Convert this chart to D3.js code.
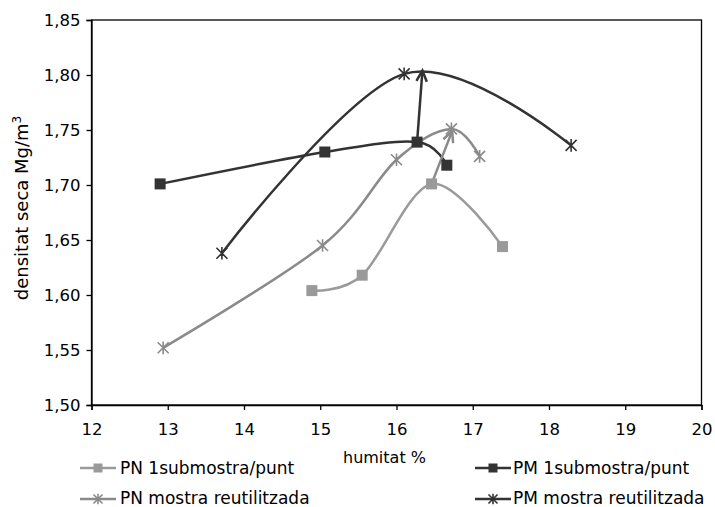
<!DOCTYPE html>
<html>
<head>
<meta charset="utf-8">
<script src="https://cdn.jsdelivr.net/npm/d3@7"></script>
<style>
  html, body { margin: 0; padding: 0; background: #fff; }
  svg { display: block; font-family: "DejaVu Sans", Verdana, sans-serif; }
</style>
</head>
<body>
<svg id="chart" width="715" height="507"></svg>
<script>
// Compaction curves: dry density (Mg/m3) against moisture (%)
const xTicks = [12, 13, 14, 15, 16, 17, 18, 19, 20];
const yTicks = [1.50, 1.55, 1.60, 1.65, 1.70, 1.75, 1.80, 1.85];

const pnSubX = [14.89, 15.55, 16.46, 17.39];
const pnSubY = [1.604, 1.618, 1.701, 1.644];

const pmSubX = [12.90, 15.06, 16.27, 16.66];
const pmSubY = [1.701, 1.730, 1.739, 1.718];

const pnReuX = [12.94, 15.03, 16.00, 16.72, 17.09];
const pnReuY = [1.552, 1.645, 1.723, 1.751, 1.726];

const pmReuX = [13.71, 16.10, 18.29];
const pmReuY = [1.638, 1.801, 1.736];

// arrows linking the single-subsample maxima to the reused-sample maxima
const arrowFromX = [16.27, 16.46];
const arrowFromY = [1.739, 1.701];
const arrowToX = [16.34, 16.73];
const arrowToY = [1.804, 1.749];

const seriesNames = ["PN 1submostra/punt", "PM 1submostra/punt", "PN mostra reutilitzada", "PM mostra reutilitzada"];

const zip = (xs, ys) => xs.map((x, i) => ({ x, y: ys[i] }));

const series = [
  { name: seriesNames[0], pts: zip(pnSubX, pnSubY), color: "#9a9a9a", marker: "square" },
  { name: seriesNames[1], pts: zip(pmSubX, pmSubY), color: "#333333", marker: "square" },
  { name: seriesNames[2], pts: zip(pnReuX, pnReuY), color: "#8a8a8a", marker: "star" },
  { name: seriesNames[3], pts: zip(pmReuX, pmReuY), color: "#333333", marker: "star" }
];

const arrows = [
  { x1: arrowFromX[0], y1: arrowFromY[0], x2: arrowToX[0], y2: arrowToY[0], color: "#333333" },
  { x1: arrowFromX[1], y1: arrowFromY[1], x2: arrowToX[1], y2: arrowToY[1], color: "#8a8a8a" }
];

const svg = d3.select("#chart");
const plotL = 91.5, plotR = 701.5, plotT = 20, plotB = 405;

const x = d3.scaleLinear().domain([12, 20]).range([plotL, plotR]);
const y = d3.scaleLinear().domain([1.50, 1.85]).range([plotB, plotT]);

// plot frame
svg.append("rect")
  .attr("x", plotL).attr("y", plotT)
  .attr("width", plotR - plotL).attr("height", plotB - plotT)
  .attr("fill", "none").attr("stroke", "#000").attr("stroke-width", 1.3);

const fmtY = v => d3.format(".2f")(v).replace(".", ",");

const yAxis = svg.append("g")
  .attr("transform", `translate(${plotL},0)`)
  .call(d3.axisLeft(y).tickValues(yTicks).tickFormat(fmtY).tickSize(5).tickPadding(6));
const xAxis = svg.append("g")
  .attr("transform", `translate(0,${plotB})`)
  .call(d3.axisBottom(x).tickValues(xTicks).tickFormat(d3.format("d")).tickSize(5).tickPadding(13));

[yAxis, xAxis].forEach(g => {
  g.select(".domain").attr("stroke", "#000").attr("stroke-width", 1.3);
  g.selectAll(".tick line").attr("stroke", "#000").attr("stroke-width", 1.3);
  g.selectAll(".tick text").attr("fill", "#000")
    .style("font-family", "'DejaVu Sans', Verdana, sans-serif").style("font-size", "16.5px");
});

// axis titles
svg.append("text")
  .attr("transform", `translate(28,208) rotate(-90)`)
  .attr("text-anchor", "middle")
  .style("font-size", "18px")
  .html('densitat seca Mg/m<tspan dy="-7" font-size="12">3</tspan>');

svg.append("text")
  .attr("x", 343).attr("y", 463)
  .style("font-size", "16px")
  .text("humitat %");

// smoothed series lines
const line = d3.line()
  .x(d => x(d.x)).y(d => y(d.y))
  .curve(d3.curveCardinal.tension(0));

const plot = svg.append("g");

series.forEach(s => {
  plot.append("path")
    .datum(s.pts)
    .attr("d", line)
    .attr("fill", "none")
    .attr("stroke", s.color)
    .attr("stroke-width", 2.5)
    .attr("stroke-linejoin", "round");
});

// arrows
function drawArrow(g, x1, y1, x2, y2, color) {
  g.append("line")
    .attr("x1", x1).attr("y1", y1).attr("x2", x2).attr("y2", y2)
    .attr("stroke", color).attr("stroke-width", 2.5);
  const ang = Math.atan2(y2 - y1, x2 - x1);
  const len = 12, spread = 0.45;
  const p1 = [x2 - len * Math.cos(ang - spread), y2 - len * Math.sin(ang - spread)];
  const p2 = [x2 - len * Math.cos(ang + spread), y2 - len * Math.sin(ang + spread)];
  g.append("path")
    .attr("d", `M${p1[0]},${p1[1]}L${x2},${y2}L${p2[0]},${p2[1]}`)
    .attr("fill", "none").attr("stroke", color).attr("stroke-width", 2.5)
    .attr("stroke-linejoin", "miter");
}
arrows.forEach(a => drawArrow(plot, x(a.x1), y(a.y1), x(a.x2), y(a.y2), a.color));

// markers
function drawMarker(g, cx, cy, type, color, size) {
  if (type === "square") {
    g.append("rect")
      .attr("x", cx - size / 2).attr("y", cy - size / 2)
      .attr("width", size).attr("height", size)
      .attr("fill", color);
  } else {
    const r = size / 2;
    const d = `M${cx - r},${cy - r}L${cx + r},${cy + r}M${cx - r},${cy + r}L${cx + r},${cy - r}M${cx},${cy - r * 1.15}L${cx},${cy + r * 1.15}`;
    g.append("path").attr("d", d).attr("stroke", color).attr("stroke-width", 1.6).attr("fill", "none");
  }
}

series.forEach(s => {
  s.pts.forEach(p => drawMarker(plot, x(p.x), y(p.y), s.marker, s.color, 11));
});

// legend
const legendPos = [
  { lx: 80, tx: 120, ly: 468, ty: 474 },
  { lx: 475, tx: 513, ly: 468, ty: 474 },
  { lx: 80, tx: 120, ly: 499, ty: 504 },
  { lx: 475, tx: 513, ly: 499, ty: 504 }
];
const legend = svg.append("g");
series.forEach((s, i) => {
  const p = legendPos[i];
  legend.append("line")
    .attr("x1", p.lx).attr("x2", p.lx + 36)
    .attr("y1", p.ly).attr("y2", p.ly)
    .attr("stroke", s.color).attr("stroke-width", 2.5);
  drawMarker(legend, p.lx + 18, p.ly, s.marker, s.color, 9);
  legend.append("text")
    .attr("x", p.tx).attr("y", p.ty)
    .style("font-size", "17px")
    .text(s.name);
});
</script>
</body>
</html>
